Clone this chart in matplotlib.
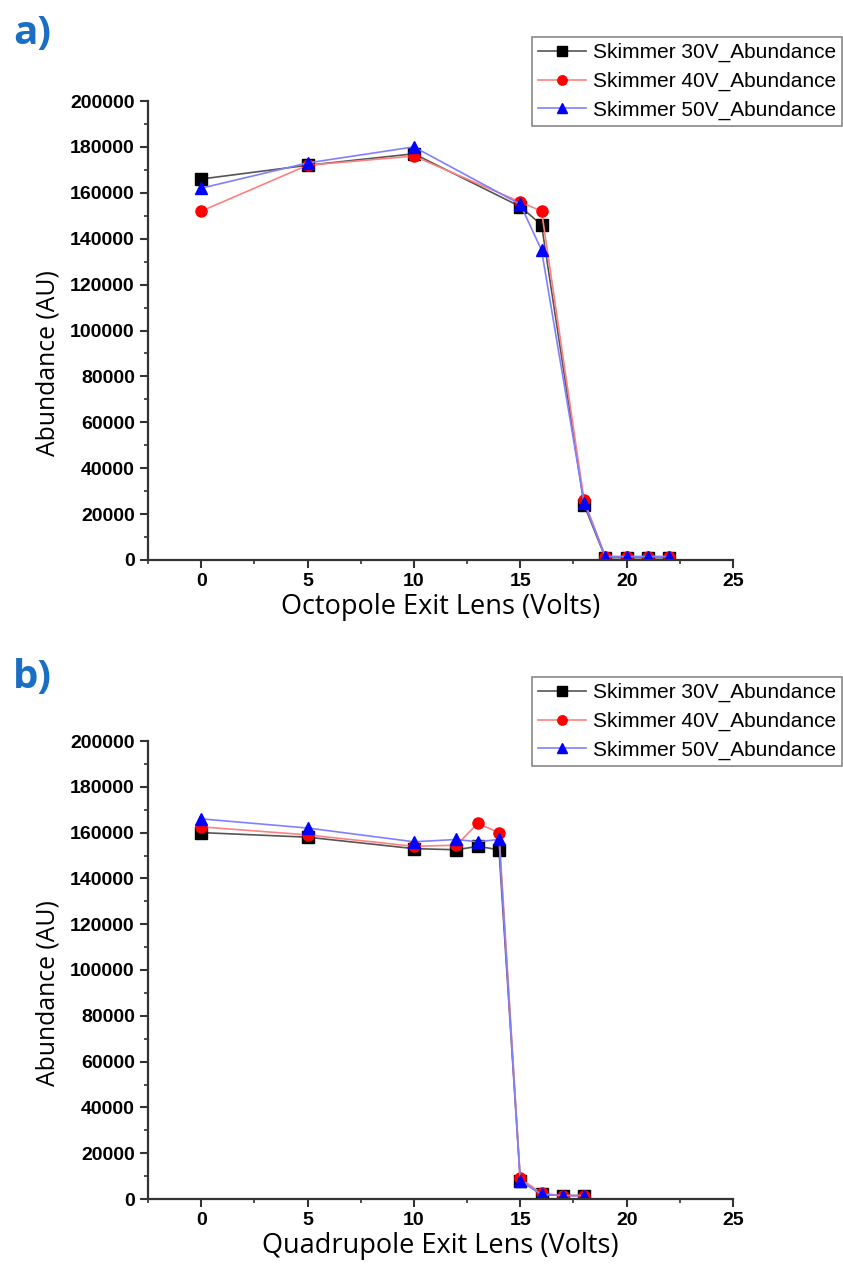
import numpy as np
import matplotlib.pyplot as plt
from matplotlib.ticker import MultipleLocator

# Data
# Panel a: Octopole exit lens scan
x_oct = [0, 5, 10, 15, 16, 18, 19, 20, 21, 22]
oct_30 = [166000, 172000, 177000, 154000, 146000, 24000, 1000, 1000, 1000, 1000]
oct_40 = [152000, 172000, 176000, 156000, 152000, 26000, 1500, 1500, 1500, 1500]
oct_50 = [162000, 173000, 180000, 155000, 135000, 25000, 1500, 1500, 1500, 1500]

# Panel b: Quadrupole exit lens scan
x_quad = [0, 5, 10, 12, 13, 14, 15, 16, 17, 18]
quad_30 = [160000, 158000, 153000, 152500, 154000, 152500, 8000, 2000, 1500, 1500]
quad_40 = [162500, 159000, 154000, 154500, 164000, 160000, 9000, 2500, 1500, 1500]
quad_50 = [166000, 162000, 156000, 157000, 156000, 157000, 8000, 2000, 1500, 1500]

labels = ['Skimmer 30V_Abundance', 'Skimmer 40V_Abundance', 'Skimmer 50V_Abundance']
styles = [('black', '#555555', 's'), ('red', '#ff8080', 'o'), ('blue', '#8080ff', '^')]

plt.rcParams['font.family'] = ['Liberation Sans', 'DejaVu Sans']

fig = plt.figure(figsize=(8.43, 12.85), dpi=100)
W, H = 843, 1285


def make_axes(top_px, bottom_px):
    return fig.add_axes([148 / W, 1 - bottom_px / H, (733 - 148) / W, (bottom_px - top_px) / H])


def draw_panel(ax, x, series, xlabel, legend_top_px, ylab_y):
    for ys, (mc, lc, m), lab in zip(series, styles, labels):
        ax.plot(x, ys, color=lc, linewidth=1.2, marker=m, markersize=8,
                markerfacecolor=mc, markeredgecolor=mc, label=lab)
    ax.set_xlim(-2.5, 25)
    ax.set_ylim(0, 200000)
    ax.xaxis.set_major_locator(MultipleLocator(5))
    ax.xaxis.set_minor_locator(MultipleLocator(2.5))
    ax.yaxis.set_major_locator(MultipleLocator(20000))
    ax.yaxis.set_minor_locator(MultipleLocator(10000))
    ax.spines['top'].set_visible(False)
    ax.spines['right'].set_visible(False)
    for s in ('left', 'bottom'):
        ax.spines[s].set_linewidth(1.6)
        ax.spines[s].set_color('#333333')
    ax.tick_params(which='major', direction='out', length=6, width=1.5,
                   labelsize=14, colors='#333333', labelcolor='black')
    ax.tick_params(which='minor', direction='out', length=3, width=1.2, colors='#333333')
    for t in ax.get_xticklabels() + ax.get_yticklabels():
        t.set_fontweight('bold')
    ax.set_xlabel(xlabel, fontsize=19.5, family=['Open Sans', 'DejaVu Sans'], labelpad=2)
    ax.set_ylabel('Abundance (AU)', fontsize=17.8, family=['Open Sans', 'DejaVu Sans'])
    ax.yaxis.set_label_coords(-0.15, ylab_y)
    leg = ax.legend(loc='upper right', bbox_to_anchor=(842 / W, 1 - legend_top_px / H),
                    bbox_transform=fig.transFigure, borderaxespad=0, fontsize=15,
                    fancybox=False, framealpha=1, edgecolor='#888888',
                    handlelength=2.3, handletextpad=0.3, labelspacing=0.45,
                    borderpad=0.3, markerscale=0.85)
    leg.get_frame().set_linewidth(1.2)


ax1 = make_axes(101, 560)
draw_panel(ax1, x_oct, [oct_30, oct_40, oct_50], 'Octopole Exit Lens (Volts)', 37, 0.43)

ax2 = make_axes(741, 1199)
draw_panel(ax2, x_quad, [quad_30, quad_40, quad_50], 'Quadrupole Exit Lens (Volts)', 677, 0.45)

fig.text(13 / W, 1 - 44 / H, 'a)', fontsize=29, color='#1a6fc4', fontweight='bold',
         family=['Open Sans', 'DejaVu Sans'])
fig.text(13 / W, 1 - 688 / H, 'b)', fontsize=29, color='#1a6fc4', fontweight='bold',
         family=['Open Sans', 'DejaVu Sans'])

fig.savefig('out.png', dpi=100)
